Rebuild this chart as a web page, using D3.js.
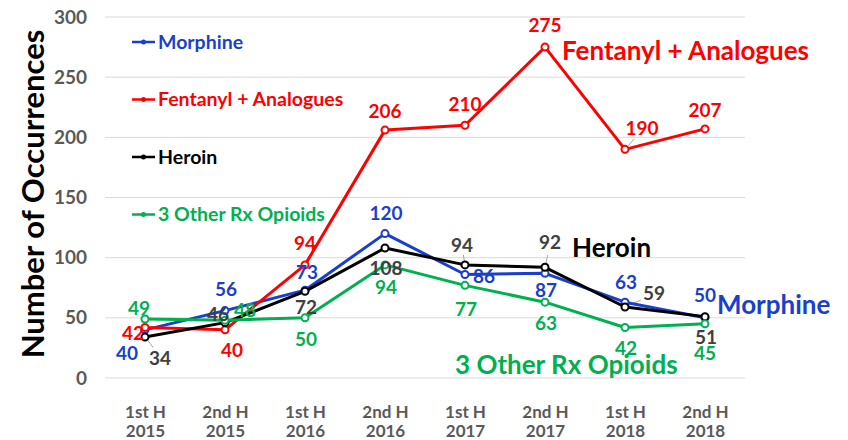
<!DOCTYPE html>
<html>
<head>
<meta charset="utf-8">
<script src="https://cdn.jsdelivr.net/npm/d3@7"></script>
<style>
  body { margin: 0; background: #fff; }
  text { font-family: Lato, "Open Sans", sans-serif; font-weight: bold; }
</style>
</head>
<body>
<div id="chart"></div>
<script>
// periods on the x axis (two lines each)
const periods = ["1st H|2015", "2nd H|2015", "1st H|2016", "2nd H|2016", "1st H|2017", "2nd H|2017", "1st H|2018", "2nd H|2018"];
const yTicks = [0, 50, 100, 150, 200, 250, 300];

const seriesNames = ["Morphine", "Fentanyl + Analogues", "Heroin", "3 Other Rx Opioids"];
const morphine = [40, 56, 73, 120, 86, 87, 63, 50];
const fentanyl = [42, 40, 94, 206, 210, 275, 190, 207];
const heroin = [34, 46, 72, 108, 94, 92, 59, 51];
const otherRx = [49, 48, 50, 94, 77, 63, 42, 45];

const colors = ["#1a3fcc", "#ff0000", "#000000", "#00b050"];
const labelColors = ["#1a3fcc", "#ff0000", "#404040", "#00b050"];

// data label offsets (dx, dy) from each point, per series
const labelOffsets = [
  [[-18, 23], [1, -21], [2, -18], [1, -20], [19, 2], [1, 17], [1, -20], [0, -22]],
  [[-12, 6], [7, 20], [0, -22], [0, -19], [0, -21], [0, -22], [17, -21], [0, -19]],
  [[15, 21], [-7, -8], [1, 16], [1, 20], [-3, -20], [5, -25], [29, -14], [1, 21]],
  [[-6, -11], [20, -10], [1, 22], [1, 22], [1, 24], [1, 21], [1, 21], [0, 29]]
];
// small leader lines [series, point]
const leaders = [[2, 0], [2, 4], [2, 5], [2, 6], [2, 7], [1, 6]];

const svg = d3.select("#chart")
    .append("svg")
    .attr("width", 848)
    .attr("height", 440);

const x = d3.scalePoint()
    .domain(periods)
    .range([105, 745])
    .padding(0.5);

const y = d3.scaleLinear()
    .domain([0, 300])
    .range([378, 17]);

// gridlines
svg.append("g")
    .selectAll("line")
    .data(yTicks)
    .enter()
    .append("line")
    .attr("x1", 105)
    .attr("x2", 745)
    .attr("y1", d => y(d))
    .attr("y2", d => y(d))
    .attr("stroke", "#d9d9d9")
    .attr("stroke-width", 1);

// y axis labels
const yAxis = d3.axisLeft(y).tickValues(yTicks).tickSize(0).tickPadding(18);
const gy = svg.append("g")
    .attr("transform", "translate(105,0)")
    .call(yAxis);
gy.select(".domain").remove();
gy.selectAll("text")
    .attr("fill", "#595959")
    .style("font-size", "19px")
    .style("font-family", "Lato, sans-serif")
    .style("font-weight", "bold");

// x axis labels
const gx = svg.append("g")
    .attr("transform", "translate(0,378)")
    .call(d3.axisBottom(x).tickSize(0).tickFormat(""));
gx.select(".domain").remove();
gx.selectAll(".tick text").remove();
gx.selectAll(".tick")
    .append("text")
    .attr("fill", "#595959")
    .attr("text-anchor", "middle")
    .style("font-size", "17px")
    .selectAll("tspan")
    .data(d => d.split("|"))
    .enter()
    .append("tspan")
    .attr("x", 0)
    .attr("y", (d, i) => 40 + i * 19)
    .text(d => d);

// y axis title
svg.append("text")
    .attr("transform", "translate(44,194) rotate(-90)")
    .attr("text-anchor", "middle")
    .style("font-size", "31px")
    .attr("fill", "#000")
    .text("Number of Occurrences");

const allSeries = [morphine, fentanyl, heroin, otherRx];
const line = d3.line()
    .x((d, i) => x(periods[i]))
    .y(d => y(d));

// leader lines
svg.append("g")
    .selectAll("line")
    .data(leaders)
    .enter()
    .append("line")
    .attr("x1", d => x(periods[d[1]]))
    .attr("y1", d => y(allSeries[d[0]][d[1]]))
    .attr("x2", d => x(periods[d[1]]) + labelOffsets[d[0]][d[1]][0] * 0.55)
    .attr("y2", d => y(allSeries[d[0]][d[1]]) + labelOffsets[d[0]][d[1]][1] * 0.5)
    .attr("stroke", "#a6a6a6")
    .attr("stroke-width", 1);

const drawOrder = [0, 1, 2, 3];
drawOrder.forEach(s => {
  const vals = allSeries[s];
  svg.append("path")
      .datum(vals)
      .attr("d", line)
      .attr("fill", "none")
      .attr("stroke", colors[s])
      .attr("stroke-width", 3)
      .attr("stroke-linejoin", "round");
  svg.append("g")
      .selectAll("circle")
      .data(vals)
      .enter()
      .append("circle")
      .attr("cx", (d, i) => x(periods[i]))
      .attr("cy", d => y(d))
      .attr("r", 3.5)
      .attr("fill", "#fff")
      .attr("stroke", colors[s])
      .attr("stroke-width", 2);
});

// data labels
drawOrder.forEach(s => {
  const vals = allSeries[s];
  svg.append("g")
      .selectAll("text")
      .data(vals)
      .enter()
      .append("text")
      .attr("x", (d, i) => x(periods[i]) + labelOffsets[s][i][0])
      .attr("y", (d, i) => y(d) + labelOffsets[s][i][1])
      .attr("dy", "0.35em")
      .attr("text-anchor", "middle")
      .attr("fill", labelColors[s])
      .style("font-size", "19px")
      .text(d => d);
});

// legend
const legend = svg.append("g")
    .selectAll("g")
    .data(seriesNames)
    .enter()
    .append("g")
    .attr("transform", (d, i) => "translate(132," + (42 + i * 57.5) + ")");
legend.append("line")
    .attr("x1", 0).attr("x2", 23)
    .attr("stroke", (d, i) => colors[i])
    .attr("stroke-width", 2.5);
legend.append("circle")
    .attr("cx", 11.5)
    .attr("r", 2.5)
    .attr("fill", (d, i) => colors[i]);
legend.append("text")
    .attr("x", 26)
    .attr("dy", "0.35em")
    .attr("fill", (d, i) => colors[i])
    .style("font-size", "19.5px")
    .text(d => d);

// series annotations
const annotations = [
  { name: "Morphine", x: 717, y: 305 },
  { name: "Fentanyl + Analogues", x: 562, y: 51 },
  { name: "Heroin", x: 572, y: 248 },
  { name: "3 Other Rx Opioids", x: 455, y: 365 }
];
svg.append("g")
    .selectAll("text")
    .data(annotations)
    .enter()
    .append("text")
    .attr("x", d => d.x)
    .attr("y", d => d.y)
    .attr("dy", "0.35em")
    .attr("fill", (d, i) => colors[i])
    .style("font-size", "26px")
    .text(d => d.name);
</script>
</body>
</html>
